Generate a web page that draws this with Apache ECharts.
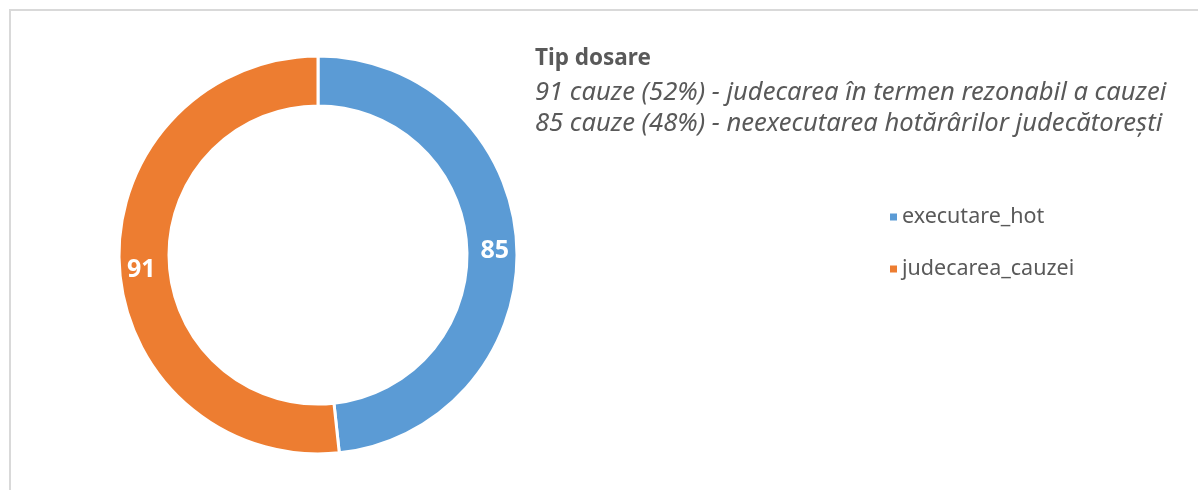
<!DOCTYPE html>
<html><head><meta charset="utf-8">
<script src="https://cdn.jsdelivr.net/npm/echarts@6/dist/echarts.min.js"></script>
<style>html,body{margin:0;padding:0;background:#fff}#c{width:1198px;height:490px}</style>
</head><body><div id="c"></div>
<script>
const categories = ['executare_hot', 'judecarea_cauzei'];
const values = [85, 91];
const colors = ['#5B9BD5', '#ED7D31'];
const titleText = 'Tip dosare';
const subLines = [
  '91 cauze (52%) - judecarea în termen rezonabil a cauzei',
  '85 cauze (48%) - neexecutarea hotărârilor judecătorești'
];
const FONT = 'Noto Sans';
const chart = echarts.init(document.getElementById('c'), null, {renderer: 'canvas'});
chart.setOption({
  animation: false,
  color: colors,
  graphic: [
    {type: 'rect', shape: {x: 10, y: 10, width: 1200, height: 500}, style: {fill: 'none', stroke: '#d9d9d9', lineWidth: 2}, silent: true},
    {type: 'text', left: 535, top: 47, style: {text: titleText, font: 'bold 22.5px "' + FONT + '"', fill: '#595959'}},
    {type: 'text', left: 535, top: 77, style: {text: subLines.join('\n'), font: 'italic 25.6px "' + FONT + '"', lineHeight: 31, fill: '#595959'}}
  ],
  legend: {
    orient: 'vertical', left: 883, top: 201, itemGap: 30,
    icon: 'rect', itemWidth: 9, itemHeight: 9,
    textStyle: {fontFamily: FONT, fontSize: 21.5, color: '#595959', padding: [0, 0, 0, -1]},
    data: categories
  },
  series: [{
    type: 'pie',
    center: [318, 255],
    radius: [149, 199],
    startAngle: 90,
    clockwise: true,
    label: {show: true, position: 'inside', formatter: '{c}', color: '#fff', fontFamily: FONT, fontWeight: 'bold', fontSize: 25},
    labelLayout: {dy: 5},
    labelLine: {show: false},
    itemStyle: {borderColor: '#fff', borderWidth: 3},
    emphasis: {disabled: true},
    data: categories.map((n, i) => ({name: n, value: values[i]}))
  }]
});
</script></body></html>
